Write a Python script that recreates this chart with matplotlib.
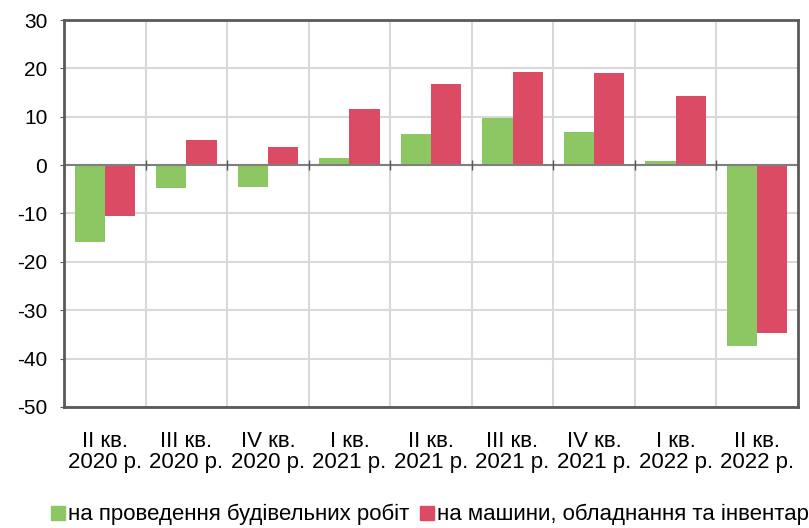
import matplotlib
matplotlib.use("Agg")
import matplotlib.pyplot as plt
from matplotlib.lines import Line2D
import numpy as np

# ── data ──────────────────────────────────────────────────────────────────────
quarters = ["II кв.\n2020 р.", "III кв.\n2020 р.", "IV кв.\n2020 р.",
            "I кв.\n2021 р.", "II кв.\n2021 р.", "III кв.\n2021 р.",
            "IV кв.\n2021 р.", "I кв.\n2022 р.", "II кв.\n2022 р."]
construction = [-15.9, -4.7, -4.5, 1.4, 6.4, 9.7, 6.8, 0.8, -37.3]
machinery = [-10.5, 5.1, 3.7, 11.5, 16.8, 19.2, 19.1, 14.3, -34.7]
series_labels = ["на проведення будівельних робіт",
                 "на машини, обладнання та інвентар"]

GREEN = "#8dc764"
RED = "#dc4b64"
FRAME = "#5a5a5a"
GRID = "#d9d9d9"

plt.rcParams["font.family"] = ["Liberation Sans", "DejaVu Sans"]
plt.rcParams["axes.unicode_minus"] = False

fig = plt.figure(figsize=(8.09, 5.28), dpi=100)
ax = fig.add_axes([0.0791, 0.2292, 0.9073, 0.7329])

x = np.arange(len(quarters))
w = 0.37
ax.bar(x - w / 2, construction, width=w, color=GREEN, zorder=3)
ax.bar(x + w / 2, machinery, width=w, color=RED, zorder=3)

ax.set_xlim(-0.5, len(quarters) - 0.5)
ax.set_ylim(-50, 30)
ax.set_yticks(range(-50, 31, 10))

# category labels, boundaries as grid
ax.set_xticks(x)
ax.set_xticklabels(quarters, fontsize=16, linespacing=1.05)
ax.set_xticks(x[:-1] + 0.5, minor=True)
ax.tick_params(axis="x", which="both", length=0, pad=17)
ax.tick_params(axis="y", labelsize=15, length=3, color=FRAME, pad=9)
ax.grid(True, which="minor", axis="x", color=GRID, linewidth=1.5, zorder=0)
ax.grid(True, which="major", axis="y", color=GRID, linewidth=1.5, zorder=0)

# zero line with small boundary marks
ax.axhline(0, color="#7f7f7f", linewidth=1.5, zorder=4)
ax.plot(x[:-1] + 0.5, np.zeros(len(x) - 1), linestyle="none", marker="|",
        markersize=7, color="#555555", zorder=4)

for s in ax.spines.values():
    s.set_color(FRAME)
    s.set_linewidth(2)
    s.set_zorder(5)

handles = [Line2D([], [], linestyle="none", marker="s", markersize=9.5,
                  color=c) for c in (GREEN, RED)]
fig.legend(handles, series_labels, loc="center left",
           bbox_to_anchor=(0.064, 0.025), ncol=2, frameon=False,
           fontsize=16, handlelength=0.6, handletextpad=0.15,
           columnspacing=0.5, borderaxespad=0, borderpad=0)

fig.savefig("out.png", dpi=100)
